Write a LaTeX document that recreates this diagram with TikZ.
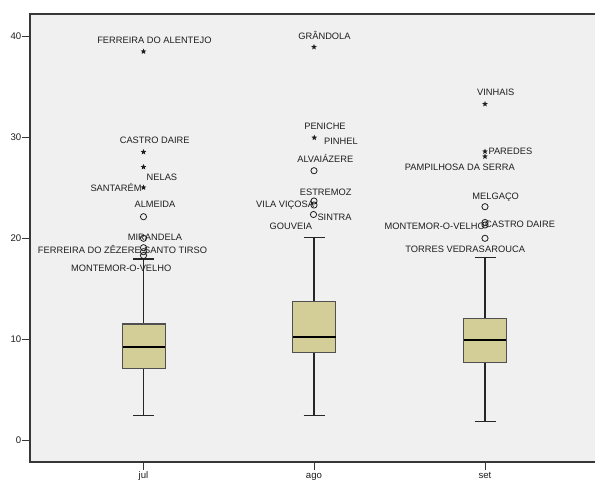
\documentclass[tikz,border=0pt]{standalone}
\usepackage{fontspec}
\setmainfont{Liberation Sans}
\usetikzlibrary{shapes.geometric}
\definecolor{plotbg}{RGB}{240,240,240}
\definecolor{boxfill}{RGB}{211,206,151}
\definecolor{framec}{RGB}{55,55,55}
\definecolor{boxline}{RGB}{80,80,80}
\definecolor{txt}{RGB}{30,30,30}
\begin{document}
\begin{tikzpicture}[x=1pt,y=-1pt,
  lbl/.style={inner sep=0pt, font=\fontsize{9.3}{10}\selectfont, text=txt, text height=6.7pt, text depth=0pt},
  axl/.style={inner sep=0pt, font=\fontsize{9.6}{10}\selectfont, text=txt, text height=6.9pt, text depth=0pt},
  starmk/.style={star, star points=5, star point ratio=2.3, fill=txt, draw=none, minimum size=6pt, inner sep=0pt},
  circmk/.style={circle, draw=txt, line width=0.8pt, minimum size=6.2pt, inner sep=0pt},
  boxst/.style={fill=boxfill, draw=boxline, line width=1.1pt},
  whisk/.style={line width=1.1pt, draw=black!85},
  med/.style={line width=2.8pt, draw=black},
  framest/.style={line width=1.6pt, draw=framec},
  tickst/.style={line width=1pt, draw=framec}]
\useasboundingbox (0,0) rectangle (595,480);
\fill[white] (0,0) rectangle (595,480);
\fill[plotbg] (30,14) rectangle (595,462);
% frame
\coordinate (fTR) at (595,14);
\coordinate (fTL) at (30,14);
\coordinate (fBL) at (30,462);
\coordinate (fBR) at (595,462);
\draw[framest] (fTR) -- (fTL) -- (fBL) -- (fBR);
% y ticks
\foreach \v/\yy in {40/36,30/137,20/238,10/339,0/440}{
  \coordinate (yt\v) at (30,\yy);
  \coordinate (ys\v) at (22,\yy);
  \draw[tickst] (yt\v) -- (ys\v);
  \node[axl, anchor=east] (yl\v) at (21.5,\yy+0.5) {\v};
}
% x ticks
\foreach \n/\xx in {jul/143.5,ago/314,set/485}{
  \coordinate (xt\n) at (\xx,462);
  \coordinate (xs\n) at (\xx,470);
  \draw[tickst] (xt\n) -- (xs\n);
  \node[axl, anchor=north, text height=5pt] (xl\n) at (\xx,473.5) {\n};
}
% ---------- jul ----------
\coordinate (julUp) at (143.5,259);
\coordinate (julLo) at (143.5,415.7);
\coordinate (julTop) at (143.5,324);
\coordinate (julBot) at (143.5,368.3);
\draw[whisk] (julUp) -- (julTop);
\draw[whisk] (julBot) -- (julLo);
\draw[whisk] ([xshift=-10.5pt]julUp) -- ([xshift=10.5pt]julUp);
\draw[whisk] ([xshift=-10.5pt]julLo) -- ([xshift=10.5pt]julLo);
\draw[boxst] (122.7,324) rectangle (165.3,368.3);
\draw[med] (122.7,347) -- (165.3,347);
% ---------- ago ----------
\coordinate (agoUp) at (314,237.7);
\coordinate (agoLo) at (314,415.7);
\coordinate (agoTop) at (314,301.7);
\coordinate (agoBot) at (314,352.7);
\draw[whisk] (agoUp) -- (agoTop);
\draw[whisk] (agoBot) -- (agoLo);
\draw[whisk] ([xshift=-10.5pt]agoUp) -- ([xshift=10.5pt]agoUp);
\draw[whisk] ([xshift=-10.5pt]agoLo) -- ([xshift=10.5pt]agoLo);
\draw[boxst] (292.5,301.7) rectangle (335.7,352.7);
\draw[med] (292.5,337) -- (335.7,337);
% ---------- set ----------
\coordinate (setUp) at (485,257.3);
\coordinate (setLo) at (485,421.7);
\coordinate (setTop) at (485,318.7);
\coordinate (setBot) at (485,362.7);
\draw[whisk] (setUp) -- (setTop);
\draw[whisk] (setBot) -- (setLo);
\draw[whisk] ([xshift=-10.5pt]setUp) -- ([xshift=10.5pt]setUp);
\draw[whisk] ([xshift=-10.5pt]setLo) -- ([xshift=10.5pt]setLo);
\draw[boxst] (463.5,318.7) rectangle (506.3,362.7);
\draw[med] (463.5,340) -- (506.3,340);
% ---------- jul outliers ----------
\node[starmk] (j1) at (143.5,51.5) {};
\node[starmk] (j2) at (143.5,152) {};
\node[starmk] (j3) at (143.5,167) {};
\node[starmk] (j4) at (143.5,187.5) {};
\node[circmk] (j5) at (143.5,216.7) {};
\node[circmk] (j6) at (143.5,238.3) {};
\node[circmk] (j7) at (143.5,247.7) {};
\node[circmk] (j8) at (143.5,251.7) {};
\node[circmk] (j9) at (143.5,255.5) {};
\node[lbl] (jl1) at (154.4,40) {FERREIRA DO ALENTEJO};
\node[lbl] (jl2) at (154.7,140) {CASTRO DAIRE};
\node[lbl, anchor=west] (jl3) at (146.5,176.7) {NELAS};
\node[lbl, anchor=east] (jl4) at (141.7,188) {SANTARÉM};
\node[lbl] (jl5) at (155,204.3) {ALMEIDA};
\node[lbl] (jl6) at (155,236.7) {MIRANDELA};
\node[lbl, anchor=east] (jl7) at (141,250) {FERREIRA DO ZÊZERE};
\node[lbl, anchor=west] (jl8) at (144,250) {SANTO TIRSO};
\node[lbl] (jl9) at (121.2,268.3) {MONTEMOR-O-VELHO};
% ---------- ago outliers ----------
\node[starmk] (a1) at (314,47) {};
\node[starmk] (a2) at (314.3,137.7) {};
\node[circmk] (a3) at (314,170.7) {};
\node[circmk] (a4) at (314,201) {};
\node[circmk] (a5) at (314,205) {};
\node[circmk] (a6) at (313.5,214.5) {};
\node[lbl] (al1) at (324.5,36) {GRÂNDOLA};
\node[lbl] (al2) at (325,125.7) {PENICHE};
\node[lbl, anchor=west] (al3) at (324,140.7) {PINHEL};
\node[lbl] (al4) at (325.3,159.3) {ALVAIÁZERE};
\node[lbl] (al5) at (325.7,191.7) {ESTREMOZ};
\node[lbl, anchor=east] (al6) at (314.3,204.3) {VILA VIÇOSA};
\node[lbl, anchor=west] (al7) at (317.3,217.3) {SINTRA};
\node[lbl, anchor=east] (al8) at (312.3,226) {GOUVEIA};
% ---------- set outliers ----------
\node[starmk] (s1) at (485,104) {};
\node[starmk] (s2) at (485,151.5) {};
\node[starmk] (s3) at (485,156.5) {};
\node[circmk] (s4) at (485,206.7) {};
\node[circmk] (s5) at (485,222.5) {};
\node[circmk] (s6) at (485,225) {};
\node[circmk] (s7) at (485,238.3) {};
\node[lbl] (sl1) at (495.8,92.3) {VINHAIS};
\node[lbl, anchor=west] (sl2) at (488.3,151.3) {PAREDES};
\node[lbl] (sl3) at (459.8,167.3) {PAMPILHOSA DA SERRA};
\node[lbl] (sl4) at (495.7,195.7) {MELGAÇO};
\node[lbl, anchor=east] (sl5) at (485,226) {MONTEMOR-O-VELHO};
\node[lbl, anchor=west] (sl6) at (485,224.3) {CASTRO DAIRE};
\node[lbl, anchor=east] (sl7) at (485,249) {TORRES VEDRAS};
\node[lbl, anchor=west] (sl8) at (485,249) {AROUCA};
\end{tikzpicture}
\end{document}
